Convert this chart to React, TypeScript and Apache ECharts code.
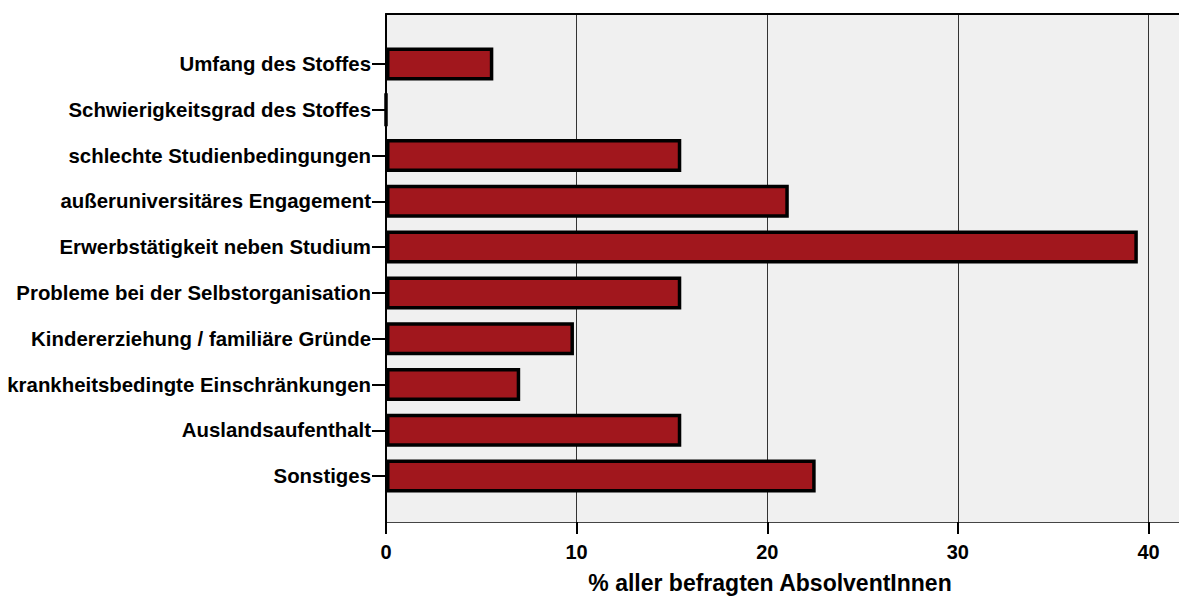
import React, { useEffect, useRef } from "react";
import * as echarts from "echarts";

const categories = [
  "Umfang des Stoffes",
  "Schwierigkeitsgrad des Stoffes",
  "schlechte Studienbedingungen",
  "außeruniversitäres Engagement",
  "Erwerbstätigkeit neben Studium",
  "Probleme bei der Selbstorganisation",
  "Kindererziehung / familiäre Gründe",
  "krankheitsbedingte Einschränkungen",
  "Auslandsaufenthalt",
  "Sonstiges",
];
const values = [5.63, 0, 15.49, 21.13, 39.44, 15.49, 9.86, 7.04, 15.49, 22.54];
const xTicks = [0, 10, 20, 30, 40];
const xMax = 41.6;
const xTitle = "% aller befragten AbsolventInnen";

const FONT = '"Liberation Sans", Arial, sans-serif';

export default function App() {
  const ref = useRef<HTMLDivElement>(null);
  useEffect(() => {
    if (!ref.current) return;
    const chart = echarts.init(ref.current, null, { renderer: "svg" });
    chart.setOption({
      animation: false,
      grid: [
        { left: 386, right: 0, top: 14, bottom: 75, show: true, backgroundColor: "#F0F0F0", borderWidth: 0 },
        { left: 386, right: 0, top: 41, bottom: 98 },
      ],
      xAxis: [
        {
          gridIndex: 0,
          type: "value",
          min: 0,
          max: xMax,
          interval: 10,
          axisLine: { show: true, lineStyle: { color: "#444", width: 1 } },
          axisTick: { show: true, length: 12, customValues: xTicks, lineStyle: { color: "#000", width: 2 } },
          axisLabel: {
            customValues: xTicks,
            margin: 20,
            color: "#000",
            fontSize: 20,
            fontWeight: "bold",
            fontFamily: FONT,
          },
          splitLine: { show: true, lineStyle: { color: "#333", width: 1 } },
        },
        {
          gridIndex: 0,
          type: "value",
          position: "top",
          min: 0,
          max: xMax,
          axisLine: { show: true, lineStyle: { color: "#000", width: 2 } },
          axisTick: { show: false },
          axisLabel: { show: false },
          splitLine: { show: false },
        },
        {
          gridIndex: 1,
          type: "value",
          min: 0,
          max: xMax,
          show: false,
        },
      ],
      yAxis: [
        {
          gridIndex: 0,
          type: "value",
          min: 0,
          max: 1,
          axisLine: { show: true, lineStyle: { color: "#000", width: 2 } },
          axisTick: { show: false },
          axisLabel: { show: false },
          splitLine: { show: false },
        },
        {
          gridIndex: 1,
          type: "category",
          inverse: true,
          data: categories,
          axisLine: { show: false },
          axisTick: { show: true, alignWithLabel: true, length: 14, lineStyle: { color: "#000", width: 2 } },
          axisLabel: {
            margin: 15,
            color: "#000",
            fontSize: 20.4,
            fontWeight: "bold",
            fontFamily: FONT,
          },
        },
      ],
      series: [
        {
          type: "bar",
          xAxisIndex: 2,
          yAxisIndex: 1,
          data: values,
          barWidth: 33,
          itemStyle: { color: "#A1171D", borderColor: "#000", borderWidth: 3.5 },
        },
      ],
      graphic: [
        {
          type: "text",
          x: 770,
          y: 583,
          style: {
            text: xTitle,
            textAlign: "center",
            textVerticalAlign: "middle",
            fill: "#000",
            font: `bold 23px ${FONT}`,
          },
        },
      ],
    });
    return () => chart.dispose();
  }, []);
  return <div ref={ref} style={{ position: "absolute", left: 0, top: 0, width: 1179, height: 597 }} />;
}
